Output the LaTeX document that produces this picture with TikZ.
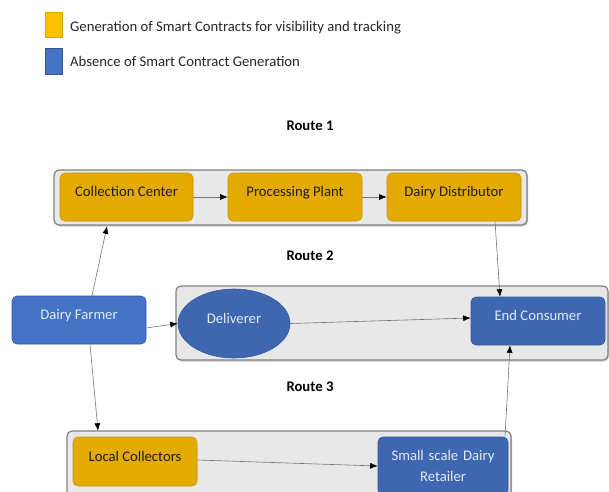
\documentclass[tikz,border=0pt]{standalone}
\usepackage{fontspec}
\setmainfont{Carlito}
\usetikzlibrary{arrows.meta,shadows,shapes.geometric}

\definecolor{legendgold}{HTML}{FFC000}
\definecolor{legendblue}{HTML}{4472C4}
\definecolor{boxgold}{HTML}{E4AA00}
\definecolor{boxgoldline}{HTML}{C89500}
\definecolor{boxblue}{HTML}{4472C4}
\definecolor{boxdarkblue}{HTML}{3E66B1}
\definecolor{boxblueline}{HTML}{3459A0}
\definecolor{bluetext}{HTML}{E2EAF6}

\tikzset{
  routebox/.style={draw=black!50, line width=1.2pt, fill=black!9, rounded corners=5pt,
    drop shadow={shadow xshift=1pt, shadow yshift=-1.5pt, opacity=0.4}},
  txt/.style={font=\fontsize{14.7}{17}\selectfont},
  stage/.style={txt, rounded corners=5pt, line width=0.6pt, inner sep=0pt,
    minimum height=48pt, text height=10pt, text depth=11pt},
  goldstage/.style={stage, draw=boxgoldline, fill=boxgold, text=black!88},
  bluestage/.style={stage, draw=boxblueline, fill=boxdarkblue, text=bluetext},
  flow/.style={draw=black!55, line width=0.6pt, -{Latex[length=7.5pt,width=6pt,color=black]}}
}

\begin{document}
\begin{tikzpicture}[x=1pt,y=-1pt]

\clip (0,0) rectangle (609,491) ;

% legend
\draw[draw=legendgold!85!black, fill=legendgold] (45,12) rectangle (62,37) ;
\draw[draw=legendblue!75!black, fill=legendblue] (45,48) rectangle (62,74) ;
\node[txt, anchor=west, inner xsep=0pt, text=black!85] (leg_gold) at (70,28) {Generation of Smart Contracts for visibility and tracking} ;
\node[txt, anchor=west, inner xsep=0pt, text=black!85] (leg_blue) at (70,61) {Absence of Smart Contract Generation} ;

% route frames
\path[routebox] (54,170) rectangle (527,225) ;
\path[routebox] (176,286) rectangle (608,360) ;
\path[routebox] (67,431) rectangle (511,505) ;

\node[txt, font=\fontsize{14.7}{17}\selectfont\bfseries] (lbl_route1) at (310,126) {Route 1} ;
\node[txt, font=\fontsize{14.7}{17}\selectfont\bfseries] (lbl_route2) at (310,256) {Route 2} ;
\node[txt, font=\fontsize{14.7}{17}\selectfont\bfseries] (lbl_route3) at (310,387) {Route 3} ;

% route 1
\node[goldstage, minimum width=133pt] (n_collect) at (126.5,197) {Collection Center} ;
\node[goldstage, minimum width=134pt] (n_process) at (295,197) {Processing Plant} ;
\node[goldstage, minimum width=134pt] (n_distrib) at (454,197) {Dairy Distributor} ;

% route 2
\node[bluestage, fill=boxblue, minimum width=134pt] (n_farmer) at (79,320) {Dairy Farmer} ;
\node[bluestage, ellipse, rounded corners=0pt, minimum width=112pt, minimum height=69pt] (n_deliver) at (234,323.5) {Deliverer} ;
\node[bluestage, minimum width=134pt] (n_consumer) at (538,321) {End Consumer} ;

% route 3
\node[goldstage, minimum width=124pt, minimum height=49pt] (n_local) at (135,461.5) {Local Collectors} ;
\node[bluestage, minimum width=130pt, minimum height=58pt, text height=, text depth=,
      text width=122pt, align=center, font=\fontsize{14.7}{21}\selectfont] (n_retail) at (443,466) {Small scale Dairy\\Retailer} ;

% connectors
\draw[flow] (n_collect.east) -- (n_process.west) ;
\draw[flow] (n_process.east) -- (n_distrib.west) ;
\draw[flow] ([xshift=13pt]n_farmer.north) -- ([xshift=-19.5pt,yshift=-5pt]n_collect.south) ;
\draw[flow] ([yshift=-8pt]n_farmer.east) -- (n_deliver.west) ;
\draw[flow] ([xshift=11pt]n_farmer.south) -- ([xshift=-37pt,yshift=6pt]n_local.north) ;
\draw[flow] ([xshift=41pt]n_distrib.south) -- ([xshift=-38pt]n_consumer.north) ;
\draw[flow] (n_deliver.east) -- ([yshift=3pt]n_consumer.west) ;
\draw[flow] ([yshift=1.5pt]n_local.east) -- (n_retail.west) ;
\draw[flow] ([xshift=62pt]n_retail.north) -- ([xshift=-28pt]n_consumer.south) ;

\end{tikzpicture}
\end{document}
